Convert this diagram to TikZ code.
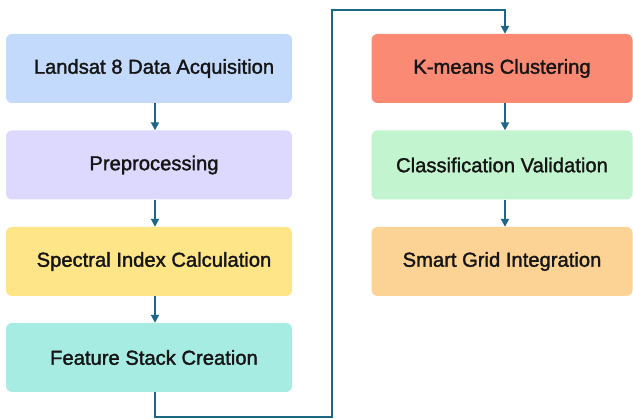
\documentclass[tikz,border=0pt]{standalone}
\usepackage{fontspec}
\newfontfamily\medfont{Liberation Sans}[FakeBold=1.6]
\usetikzlibrary{arrows.meta,positioning}
\definecolor{cA}{HTML}{C3DAFC}
\definecolor{cB}{HTML}{DDD8FD}
\definecolor{cC}{HTML}{FDE588}
\definecolor{cD}{HTML}{A6ECE2}
\definecolor{cE}{HTML}{FA8A74}
\definecolor{cF}{HTML}{C2F5CF}
\definecolor{cG}{HTML}{FDD395}
\definecolor{lnk}{HTML}{1E6688}
\definecolor{txt}{HTML}{151515}
\tikzset{
  stepbox/.style={rounded corners=6pt, minimum height=69pt, inner sep=0pt,
    font=\medfont\fontsize{20.2}{24}\selectfont, text=txt},
  lbox/.style={stepbox, minimum width=286pt},
  rbox/.style={stepbox, minimum width=261pt},
  flow/.style={draw=lnk, line width=1.8pt, -{Triangle[length=8pt,width=8pt]}},
}
\begin{document}
\begin{tikzpicture}[x=1pt,y=-1pt]
\useasboundingbox[fill=white] (0,0) rectangle (633,419);
\node[lbox, fill=cA] (a) at (149,68.5) {\hspace{10pt}Landsat 8 Data Acquisition};
\node[lbox, fill=cB] (b) at (149,165) {\hspace{10pt}Preprocessing};
\node[lbox, fill=cC] (c) at (149,261.5) {\hspace{10pt}Spectral Index Calculation};
\node[lbox, fill=cD] (d) at (149,357.5) {\hspace{10pt}Feature Stack Creation};
\node[rbox, fill=cE] (e) at (502,68.5) {K-means Clustering};
\node[rbox, fill=cF] (f) at (502,165) {Classification Validation};
\node[rbox, fill=cG] (g) at (502,261.5) {Smart Grid Integration};
\coordinate (p1) at (155,417);
\coordinate (p2) at (332,417);
\coordinate (p3) at (332,10);
\coordinate (p4) at (505,10);
\draw[flow] ([xshift=6pt]a.south) -- ([xshift=6pt]b.north);
\draw[flow] ([xshift=6pt]b.south) -- ([xshift=6pt]c.north);
\draw[flow] ([xshift=6pt]c.south) -- ([xshift=6pt]d.north);
\draw[flow] ([xshift=6pt]d.south) -- (p1) -- (p2) -- (p3) -- (p4) -- ([xshift=3pt]e.north);
\draw[flow] ([xshift=3pt]e.south) -- ([xshift=3pt]f.north);
\draw[flow] ([xshift=3pt]f.south) -- ([xshift=3pt]g.north);
\end{tikzpicture}
\end{document}
